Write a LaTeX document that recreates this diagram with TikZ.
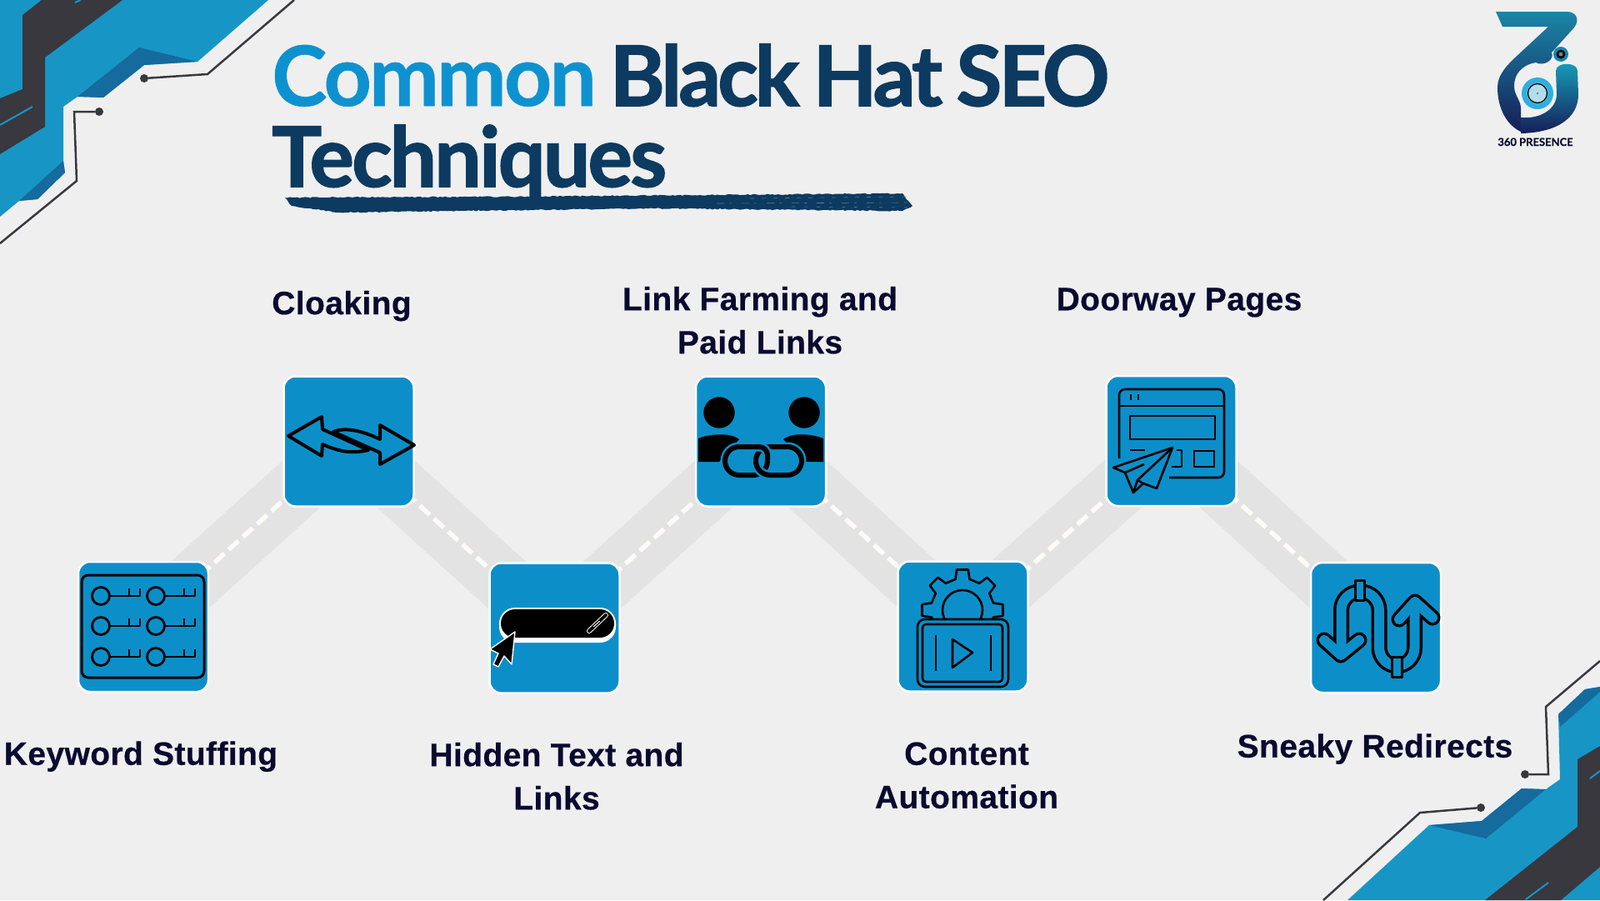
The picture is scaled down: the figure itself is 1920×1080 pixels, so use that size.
\documentclass[tikz,border=0pt]{standalone}
\usepackage{fontspec}
\usetikzlibrary{positioning,backgrounds,decorations.pathmorphing}
\setmainfont[LetterSpace=1,FakeBold=0.4]{Liberation Sans}
\newfontfamily\titlefont[LetterSpace=-2.9,FakeBold=0.6]{Lato}
\newfontfamily\titleheavy[LetterSpace=-3.8,FakeBold=1.6,WordSpace=0.8]{Lato}
\newfontfamily\titlelower[LetterSpace=-2.7,FakeBold=1.6]{Lato}
\newfontfamily\logofont[FakeBold=0.5]{Lato}
\definecolor{pagebg}{HTML}{EFEFEF}
\definecolor{bandgrey}{HTML}{E3E3E3}
\definecolor{dashwhite}{HTML}{FCFBF7}
\definecolor{iconblue}{HTML}{0C8FC9}
\definecolor{cornerblue}{HTML}{1796C5}
\definecolor{cornerdeep}{HTML}{156A9E}
\definecolor{cornerdark}{HTML}{38383E}
\definecolor{titleblue}{HTML}{0E92CF}
\definecolor{titlenavy}{HTML}{0D3A60}
\definecolor{labelnavy}{HTML}{0A0A30}
\definecolor{logoteal}{HTML}{1B86A8}
\definecolor{logonavy}{HTML}{161E58}
\definecolor{logocyan}{HTML}{2BB0E0}
\definecolor{brushfade}{HTML}{5C7C98}
\tikzset{
  iconbox/.style={draw=white, line width=2.5pt, fill=iconblue, rounded corners=14pt, minimum size=156pt, inner sep=0pt},
  steplabel/.style={font=\fontsize{39}{52}\selectfont\bfseries, text=labelnavy, align=center, inner sep=0pt},
  titleline/.style={font=\fontsize{100}{100}\selectfont\titleheavy\bfseries, text=titlenavy, anchor=base west, inner sep=0pt},
  band/.style={draw=bandgrey, line width=72pt},
  dashline/.style={draw=dashwhite, line width=5.5pt, dash pattern=on 16pt off 7pt},
  iconline/.style={draw=black, line width=3pt, line join=round},
  iconthin/.style={draw=black, line width=2.6pt, line join=round},
  circuit/.style={draw=cornerdark, line width=2.5pt},
  chainlink/.style={rounded corners=17pt}
}
\begin{document}
\begin{tikzpicture}[x=1pt,y=-1pt]
  \useasboundingbox (0,0) rectangle (1920,1080);

  % --- Corner, top left ---
  \fill[cornerblue] (0,0) -- (322,0) -- (237,74) -- (173,78) -- (124,117) -- (93,116) -- (76,128)
    -- (76,193) -- (78,207) -- (45,239) -- (23,241) -- (0,260) -- cycle;
  \fill[cornerdeep] (167,57) -- (237,74) -- (173,78) -- (124,117) -- (93,116) -- cycle;
  \fill[cornerdeep] (76,193) -- (78,207) -- (45,239) -- (23,241) -- cycle;
  \fill[cornerdark] (50,0) -- (27,18) -- (27,107) -- (0,118) -- (0,185) -- (54,152) -- (54,69) -- (147,0) -- cycle;
  \draw[cornerblue, line width=2pt] (0,150) -- (39,128);
  \draw[cornerblue, line width=2pt] (90,3) -- (97,0);
  \coordinate (tlA) at (353,0);
  \coordinate (tlB) at (0,292);
  \node (tlDotA) [circle, fill=cornerdark, minimum size=10pt, inner sep=0pt] at (173,94) {};
  \node (tlDotB) [circle, fill=cornerdark, minimum size=10pt, inner sep=0pt] at (119,134) {};
  \draw[circuit] (tlA) -- (249,89) -- (tlDotA);
  \draw[circuit] (tlB) -- (92,217) -- (89,134) -- (tlDotB);

  % --- Corner, bottom right ---
  \fill[cornerblue] (1617,1080) -- (1715,990) -- (1778,985) -- (1826,946) -- (1855,947) -- (1872,935)
    -- (1870,857) -- (1902,827) -- (1920,824) -- (1920,1080) -- cycle;
  \fill[cornerdeep] (1715,990) -- (1783,1006) -- (1855,947) -- (1826,946) -- (1778,985) -- cycle;
  \fill[cornerdeep] (1870,857) -- (1872,872) -- (1920,830) -- (1920,824) -- (1902,827) -- cycle;
  \fill[cornerdark] (1782,1080) -- (1893,992) -- (1893,911) -- (1920,895) -- (1920,1040) -- (1873,1080) -- cycle;
  \draw[cornerblue, line width=2pt] (1908,934) -- (1920,925);
  \draw[cornerblue, line width=2pt] (1831,1079) -- (1858,1059);
  \coordinate (brA) at (1920,793);
  \coordinate (brB) at (1588,1080);
  \node (brDotA) [circle, fill=cornerdark, minimum size=10pt, inner sep=0pt] at (1830,929) {};
  \node (brDotB) [circle, fill=cornerdark, minimum size=10pt, inner sep=0pt] at (1777,969) {};
  \draw[circuit] (brA) -- (1855,848) -- (1858,929) -- (brDotA);
  \draw[circuit] (brB) -- (1704,975) -- (brDotB);

  % --- Title ---
  \fill[titlenavy, decorate, decoration={random steps, segment length=3pt, amplitude=.7pt}]
    (342,237) -- (600,236) -- (1083,232) -- (1095,247) -- (1083,253) -- (784,250) -- (406,255) -- (350,247) -- cycle;
  \draw[brushfade, line width=.6pt, dash pattern=on 5pt off 9pt] (900,238) -- (1090,236);
  \draw[brushfade, line width=.6pt, dash pattern=on 9pt off 6pt on 3pt off 12pt] (860,244) -- (1092,243);
  \draw[brushfade, line width=.6pt, dash pattern=on 4pt off 11pt] (950,248) -- (1092,249);
  \node (titleA) [titleline] at (326,127) {\textcolor{titleblue}{\titlefont\bfseries Common} Black Hat SEO};
  \node (titleB) [titleline] at (326,224) {\titlelower\bfseries Techniques};

  % --- Boxes ---
  \node (keyword) [iconbox] at (172,752) {};
  \node (cloak) [iconbox] at (418.5,529.5) {};
  \node (hidden) [iconbox] at (665.5,753.5) {};
  \node (farm) [iconbox] at (913,529.5) {};
  \node (content) [iconbox] at (1155.5,751.5) {};
  \node (doorway) [iconbox] at (1405.5,529) {};
  \node (sneaky) [iconbox] at (1651,753) {};

  % --- Connectors ---
  \begin{scope}[on background layer]
    \fill[pagebg] (0,0) rectangle (1920,1080);
    \foreach \a/\b in {keyword/cloak,cloak/hidden,hidden/farm,farm/content,content/doorway,doorway/sneaky}
      \draw[band] (\a.center) -- (\b.center);
    \foreach \a/\b in {keyword/cloak,cloak/hidden,hidden/farm,farm/content,content/doorway,doorway/sneaky}
      \draw[dashline] (\a.center) -- (\b.center);
  \end{scope}

  % --- Labels ---
  \node (cloaktxt) [steplabel, above=64.7pt of cloak, xshift=-8.5pt] {Cloaking};
  \node (farmtxt) [steplabel, above=25.5pt of farm, xshift=-1pt] {Link Farming and\\Paid Links};
  \node (doorwaytxt) [steplabel, above=69pt of doorway, xshift=9.5pt] {Doorway Pages};
  \node (keywordtxt) [steplabel, below=58pt of keyword, xshift=-3pt] {Keyword Stuffing};
  \node (hiddentxt) [steplabel, below=58pt of hidden, xshift=2.5pt] {Hidden Text and\\Links};
  \node (contenttxt) [steplabel, below=59.5pt of content, xshift=4.5pt] {Content\\Automation};
  \node (sneakytxt) [steplabel, below=48pt of sneaky, xshift=-1pt] {Sneaky Redirects};

  % --- Icon: keys ---
  \draw[iconline, rounded corners=8pt] (98,690) rectangle (245,813);
  \foreach \ky in {715,751,788}
    \foreach \kx in {121,187} {
      \draw[iconthin, line width=2.8pt] (\kx,\ky) circle (10.5);
      \draw[iconthin, line width=2.8pt] (\kx+10.5,\ky) -- (\kx+47,\ky) -- (\kx+47,\ky-9);
      \draw[iconthin, line width=2.8pt] (\kx+34,\ky) -- (\kx+34,\ky-9);
    }

  % --- Icon: two arrows ---
  \draw[iconline, line width=4pt] (497,534) -- (456,510) -- (456,527) .. controls (435,517) and (415,512) .. (400,518)
    -- (456,543) -- (456,557) -- cycle;
  \draw[iconline, line width=4pt] (346,523) -- (386,500) -- (387,515) -- (442,540)
    .. controls (420,545) and (405,541) .. (387,533) -- (386,547) -- cycle;

  % --- Icon: people and chain ---
  \fill[black] (863,495) circle (18.7);
  \fill[black] (965,495) circle (18.7);
  \fill[black] (838,526) .. controls (850,521) and (875,518) .. (887,527) -- (863,554) -- (838,554) -- cycle;
  \fill[black] (988,526) .. controls (976,521) and (951,518) .. (940,527) -- (965,554) -- (988,554) -- cycle;
  \draw[iconblue, line width=11pt, chainlink] (870,536) rectangle (921,570);
  \draw[black, line width=6pt, chainlink] (870,536) rectangle (921,570);
  \draw[iconblue, line width=11pt, chainlink] (907,536) rectangle (962,570);
  \draw[black, line width=6pt, chainlink] (907,536) rectangle (962,570);
  \draw[iconblue, line width=11pt, rounded corners=10pt] (895,536) -- (921,536) -- (921,552);
  \draw[black, line width=6pt, rounded corners=10pt] (895,536) -- (921,536) -- (921,552);

  % --- Icon: link bar and cursor ---
  \fill[white] (599,729) [rounded corners=19pt] rectangle (739,771);
  \fill[black] (601,731) [rounded corners=17pt] rectangle (737,765);
  \draw[white, line width=6pt, line cap=round] (707,757) -- (727,738);
  \draw[black, line width=4pt, line cap=round] (707,757) -- (727,738);
  \draw[white, line width=1pt] (712,752) -- (720,745);
  \draw[fill=black, draw=white, line width=1.4pt, line join=round] (618,758) -- (588,779) -- (598,784) -- (592,797)
    -- (598,800) -- (605,787) -- (614,797) -- cycle;

  % --- Icon: gear and screen ---
  \begin{scope}
    \clip (1085,676) rectangle (1225,741.5);
    \draw[iconthin] (1155,732) circle (24);
    \draw[iconthin, shift={(1155,732)}] (-13:38) \foreach \ang in {0,45,...,315} {
      -- ({\ang-13}:38) -- ({\ang-8}:49) -- ({\ang+8}:49) -- ({\ang+13}:38) } -- cycle;
  \end{scope}
  \draw[iconthin, rounded corners=9pt] (1101,743) rectangle (1210,824);
  \draw[iconthin, rounded corners=4pt] (1107,749) rectangle (1203,818);
  \draw[iconthin] (1123,762) -- (1123,805);
  \draw[iconthin] (1189,762) -- (1189,805);
  \draw[iconthin] (1143,767) -- (1167,783) -- (1143,801) -- cycle;

  % --- Icon: page and paper plane ---
  \draw[iconthin, rounded corners=7pt] (1343,550) -- (1343,467) -- (1469,467) -- (1469,573) -- (1403,573);
  \draw[iconthin] (1343,487) -- (1469,487);
  \draw[iconthin] (1357,473) -- (1357,480);
  \draw[iconthin] (1366,473) -- (1366,480);
  \draw[iconthin] (1356,499) rectangle (1458,527);
  \draw[iconthin] (1356,540) -- (1374,540);
  \draw[iconthin] (1412,540) -- (1418,540) -- (1418,560) -- (1406,560);
  \draw[iconthin] (1433,541) rectangle (1457,560);
  \draw[iconthin, fill=iconblue] (1407,537) -- (1336,561) -- (1350,567) -- (1360,591) -- (1372,580) -- (1388,586) -- cycle;
  \draw[iconthin] (1407,537) -- (1365,576) -- (1360,591);
  \draw[iconthin] (1365,576) -- (1372,580);
  \draw[iconthin] (1350,567) -- (1373,557);

  % --- Icon: winding road ---
  \draw[black, line width=19pt, rounded corners=22pt, line cap=butt] (1609.5,775) -- (1609.5,710) -- (1655,710) -- (1655,799) -- (1697.5,799) -- (1697.5,735);
  \draw[black, line width=19pt, line cap=round, line join=round] (1589,768) -- (1609,786) -- (1631,768);
  \draw[black, line width=19pt, line cap=round, line join=round] (1679,743) -- (1698,722) -- (1719,741);
  \draw[iconblue, line width=12pt, line cap=round, line join=round] (1589,768) -- (1609,786) -- (1631,768);
  \draw[iconblue, line width=12pt, line cap=round, line join=round] (1679,743) -- (1698,722) -- (1719,741);
  \draw[iconblue, line width=12pt, rounded corners=22pt] (1609.5,780) -- (1609.5,710) -- (1655,710) -- (1655,799) -- (1697.5,799) -- (1697.5,730);
  \draw[iconline, fill=iconblue] (1626,696) rectangle (1637,720);
  \draw[iconline, fill=iconblue] (1670,788) rectangle (1682,812);

  % --- Logo ---
  \path[top color=logoteal, bottom color=logonavy]
    (1795,14) -- (1880,14) .. controls (1892,14) and (1896,24) .. (1889,33) -- (1862,63)
    .. controls (1866,72) and (1852,80) .. (1843,75) .. controls (1825,78) and (1817,90) .. (1817,103)
    .. controls (1817,115) and (1825,120) .. (1825,130) -- (1825,158) .. controls (1808,150) and (1797,130) .. (1797,105)
    .. controls (1797,92) and (1805,82) .. (1815,72) -- (1858,32) -- (1803,32) -- cycle;
  \path[top color=logoteal!80!cyan, bottom color=logonavy]
    (1867,85) .. controls (1867,74) and (1893,74) .. (1893,85) -- (1894,113) .. controls (1894,142) and (1868,159) .. (1825,160)
    -- (1825,141) .. controls (1850,143) and (1868,130) .. (1868,113) -- cycle;
  \fill[logocyan] (1845,112) circle (19);
  \fill[pagebg!70!logocyan] (1845,112) circle (12.5);
  \draw[black, line width=1.3pt] (1845,112) circle (11.5);
  \fill[logoteal] (1845,112) circle (1.2);
  \fill[logoteal] (1873,65) circle (9);
  \fill[black!75!logonavy] (1873,65) circle (5.5);
  \fill[gray] (1873,65) circle (2.5);
  \node (logotxt) [font=\fontsize{13}{14}\selectfont\logofont\bfseries, text=labelnavy, inner sep=0pt, anchor=base] at (1842.5,175) {360 PRESENCE};
\end{tikzpicture}
\end{document}
